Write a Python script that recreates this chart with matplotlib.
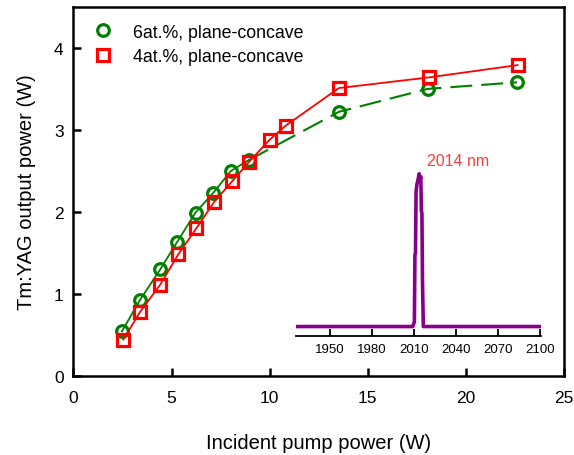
import matplotlib
matplotlib.use("Agg")
import matplotlib.pyplot as plt
from matplotlib.lines import Line2D

plt.rcParams['font.family'] = ['Liberation Sans', 'DejaVu Sans']
plt.rcParams['lines.scale_dashes'] = False

# output power vs incident pump power
pump_6at = [2.47, 3.38, 4.43, 5.28, 6.22, 7.12, 8.03, 8.93, 13.53, 18.06, 22.6]
power_6at = [0.54, 0.92, 1.30, 1.63, 1.99, 2.23, 2.50, 2.63, 3.22, 3.50, 3.58]

pump_4at = [2.54, 3.40, 4.42, 5.34, 6.27, 7.17, 8.08, 8.95, 10.0, 10.81, 13.53, 18.11, 22.64]
power_4at = [0.44, 0.78, 1.11, 1.48, 1.80, 2.12, 2.37, 2.61, 2.88, 3.05, 3.51, 3.64, 3.79]

labels = ["6at.%, plane-concave", "4at.%, plane-concave"]

# laser spectrum (normalised)
wavelength = [1926, 2009.0, 2010.2, 2010.6, 2011.0, 2011.4, 2012.0, 2013.0, 2013.6,
              2014.2, 2014.8, 2015.2, 2015.6, 2016.0, 2016.6, 2100]
intensity = [0, 0, 0.03, 0.47, 0.48, 0.88, 0.93, 0.97, 1.0,
             0.96, 0.98, 0.76, 0.74, 0.30, 0, 0]
spec_ticks = [1950, 1980, 2010, 2040, 2070, 2100]

green = '#008000'
red = '#ff0000'
ms, mew = 8.4, 2.3

fig = plt.figure(figsize=(5.74, 4.56), dpi=100)
ax = fig.add_axes([0.128, 0.174, 0.8545, 0.8086])

# 6at.% curve: solid at low pump, dashed above
ax.plot(pump_6at[:8], power_6at[:8], color=green, lw=1.3)
ax.plot(pump_6at[7:], power_6at[7:], color=green, lw=1.5, dashes=(15.8, 6.5))
ax.plot(pump_6at, power_6at, ls='none', marker='o', ms=ms, mew=mew,
        mfc='none', mec=green)

ax.plot(pump_4at, power_4at, color=red, lw=1.3, marker='s', ms=ms, mew=mew,
        mfc='none', mec=red)

ax.set_xlim(0, 25)
ax.set_ylim(0, 4.5)
ax.set_xticks([0, 5, 10, 15, 20, 25])
ax.set_yticks([0, 1, 2, 3, 4])
ax.tick_params(direction='in', length=6, width=1.8, labelsize=12.5)
ax.tick_params(axis='x', pad=10.5)
ax.tick_params(axis='y', pad=7)
for s in ax.spines.values():
    s.set_linewidth(1.8)

ax.set_xlabel('Incident pump power (W)', fontsize=14.5, labelpad=20)
ax.set_ylabel('Tm:YAG output power (W)', fontsize=14.5, labelpad=13)

handles = [
    Line2D([], [], ls='none', marker='o', ms=ms, mew=mew, mfc='none', mec=green),
    Line2D([], [], ls='none', marker='s', ms=ms, mew=mew, mfc='none', mec=red),
]
ax.legend(handles, labels, loc='upper left', bbox_to_anchor=(0.043, 0.955),
          frameon=False, fontsize=12.75, handlelength=1.0, handletextpad=1.15,
          borderpad=0, borderaxespad=0, labelspacing=0.45)

# inset: emission spectrum
ins = fig.add_axes([0.5157, 0.2616, 0.4263, 0.3618])
ins.patch.set_alpha(0)
ins.plot(wavelength, intensity, color='#880088', lw=2.6)
ins.set_xlim(1925.5, 2100.6)
ins.set_ylim(-0.06, 1.02)
ins.set_xticks(spec_ticks)
ins.set_yticks([])
for side in ['left', 'right', 'top']:
    ins.spines[side].set_visible(False)
ins.spines['bottom'].set_linewidth(1.3)
ins.tick_params(axis='x', direction='in', length=5, width=1.3, labelsize=9.5, pad=5.5)
ins.text(2018.9, 1.057, '2014 nm', color='#ff3c3c', fontsize=11.5,
         ha='left', va='baseline', clip_on=False)

fig.savefig('out.png', dpi=100)
